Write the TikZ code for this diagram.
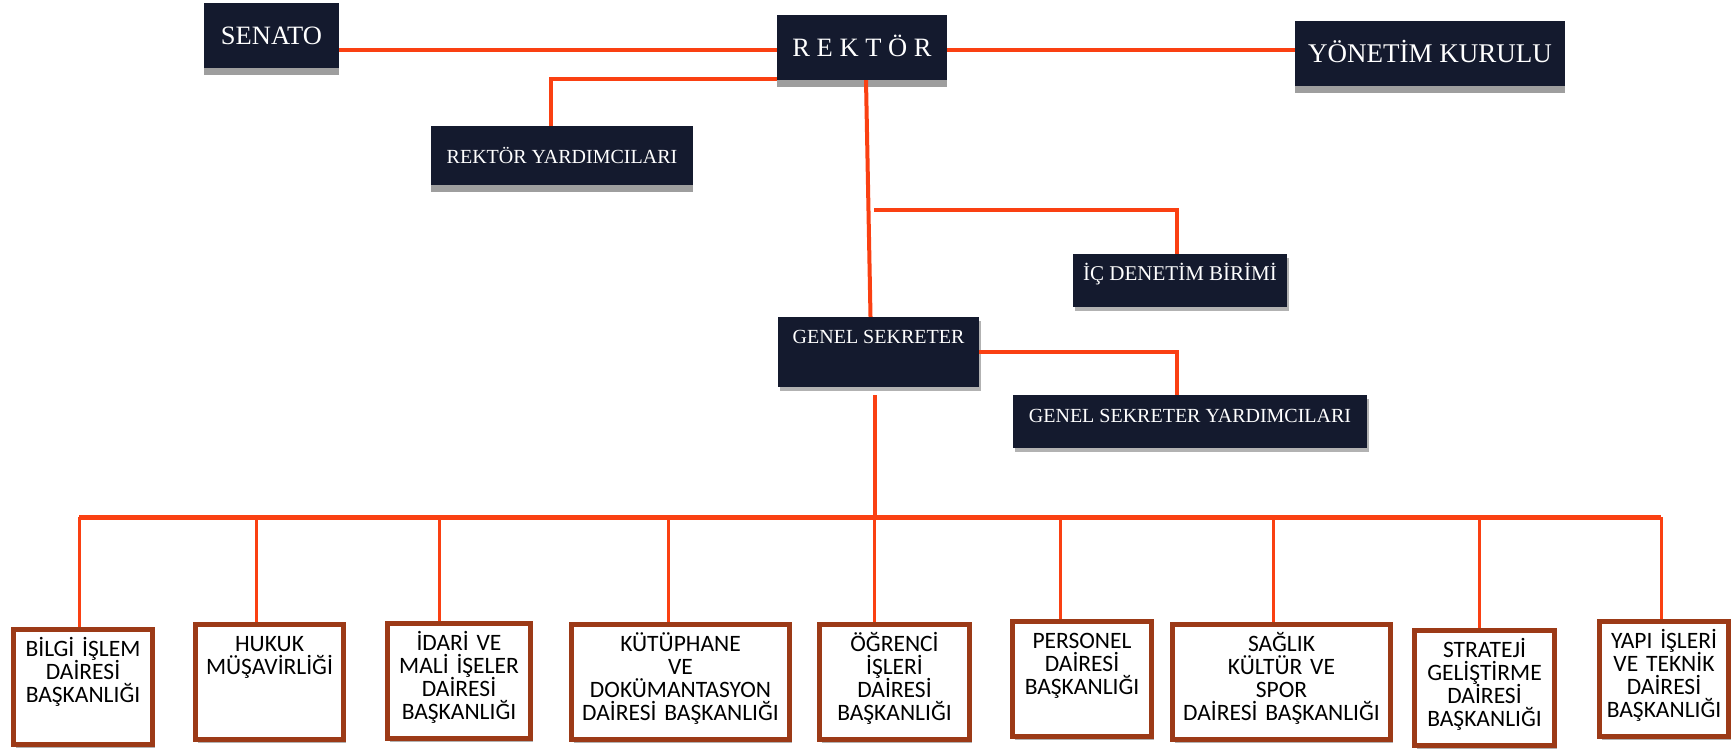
\documentclass[tikz,border=0pt]{standalone}
\usepackage{fontspec}
\setmainfont{Liberation Serif}
\newfontfamily\unitfont{Carlito}
\usetikzlibrary{shadows}
\definecolor{navy}{RGB}{20,26,46}
\definecolor{wire}{RGB}{250,64,18}
\definecolor{brick}{RGB}{156,58,23}
\newcommand\unittext[1]{\vbox to 111pt{\lineskiplimit=-100pt\rule{0pt}{25pt}#1\par\vfil}}
\begin{document}
\begin{tikzpicture}[x=1pt,y=-1pt,
  board/.style={fill=navy,text=white,inner sep=0pt,anchor=base},
  flat/.style={drop shadow={shadow xshift=0pt,shadow yshift=-7pt,opacity=1,fill=black!38}},
  soft/.style={drop shadow={shadow xshift=2pt,shadow yshift=-4pt,opacity=.3,fill=black}},
  unit/.style={draw=brick,line width=5pt,fill=white,inner sep=2pt,anchor=north,align=center,
    font=\unitfont\fontsize{23.5}{23.3}\selectfont,soft},
  link/.style={wire,line width=4pt},
  drop/.style={wire,line width=3pt}]
\useasboundingbox (0,0) rectangle (1731,749);
\node[board,flat,minimum width=135pt,text height=42pt,text depth=23pt,font=\fontsize{26.5}{30}\selectfont] (senato) at (271.5,45) {SENATO};
\node[board,flat,minimum width=170pt,text height=42pt,text depth=23pt,font=\fontsize{26.5}{30}\selectfont] (rektor) at (862,57) {R E K T Ö R};
\node[board,flat,minimum width=270pt,text height=42pt,text depth=23pt,font=\fontsize{27}{30}\selectfont] (yonetim) at (1430,63) {YÖNETİM KURULU};
\node[board,flat,minimum width=262pt,text height=37pt,text depth=22pt,font=\fontsize{20}{24}\selectfont] (ryard) at (562,163) {REKTÖR YARDIMCILARI};
\node[board,soft,minimum width=214pt,text height=26pt,text depth=27pt,font=\fontsize{21}{24}\selectfont] (icd) at (1180,280) {İÇ DENETİM BİRİMİ};
\node[board,soft,minimum width=201pt,text height=26pt,text depth=44pt,font=\fontsize{20}{24}\selectfont] (gs) at (878.5,343) {GENEL SEKRETER};
\node[board,soft,minimum width=354pt,text height=27pt,text depth=26pt,font=\fontsize{20}{24}\selectfont] (gsy) at (1190,422) {GENEL SEKRETER YARDIMCILARI};

\draw[link] ([yshift=-2.5pt]rektor.west) -- ([yshift=-2.5pt]rektor.west -| senato.east);
\draw[link] ([yshift=-2.5pt]rektor.east) -- ([yshift=-2.5pt]rektor.east -| yonetim.west);
\draw[link] ([yshift=1pt]rektor.south west) -| ([xshift=-11pt]ryard.north);
\draw[link] ([xshift=4pt]rektor.south) -- ([xshift=-8pt]gs.north);
\coordinate (icfork) at (874,210);
\draw[link] (icfork) -| ([xshift=-3pt]icd.north);
\draw[link] (gs.east) -| ([xshift=-13pt]gsy.north);

\coordinate (busl) at (79,517);
\coordinate (busr) at (1661,517);
\draw[link,line width=5pt] (busl) -- (busr);
\draw[link] ([xshift=-3.5pt,yshift=-8pt]gs.south) -- ([xshift=-3.5pt]gs.south |- busl);

\node[unit,text width=135pt] (b1) at (83,626.5) {\unittext{BİLGİ İŞLEM\\DAİRESİ\\BAŞKANLIĞI}};
\node[unit,text width=144pt] (b2) at (269.5,621.5) {\unittext{HUKUK\\MÜŞAVİRLİĞİ}};
\node[unit,text width=139pt] (b3) at (459,620.5) {\unittext{İDARİ VE\\MALİ İŞELER\\DAİRESİ\\BAŞKANLIĞI}};
\node[unit,text width=214pt] (b4) at (680.5,621.5) {\unittext{KÜTÜPHANE\\VE\\DOKÜMANTASYON\\DAİRESİ BAŞKANLIĞI}};
\node[unit,text width=146pt] (b5) at (894.5,621.5) {\unittext{ÖĞRENCİ\\İŞLERİ\\DAİRESİ\\BAŞKANLIĞI}};
\node[unit,text width=135pt] (b6) at (1082,618.5) {\unittext{PERSONEL\\DAİRESİ\\BAŞKANLIĞI}};
\node[unit,text width=214pt] (b7) at (1281.5,621.5) {\unittext{SAĞLIK\\KÜLTÜR VE\\SPOR\\DAİRESİ BAŞKANLIĞI}};
\node[unit,text width=136pt] (b8) at (1484.5,627.5) {\unittext{STRATEJİ\\GELİŞTİRME\\DAİRESİ\\BAŞKANLIĞI}};
\node[unit,text width=125pt] (b9) at (1664,618.5) {\unittext{YAPI İŞLERİ\\VE TEKNİK\\DAİRESİ\\BAŞKANLIĞI}};

\foreach \name/\dx in {b1/79,b2/256,b3/439,b4/668,b5/874,b6/1060,b7/1273,b8/1479,b9/1661}
  \draw[drop] (\dx,0 |- busl) -- (\dx,0 |- \name.north);
\end{tikzpicture}
\end{document}
